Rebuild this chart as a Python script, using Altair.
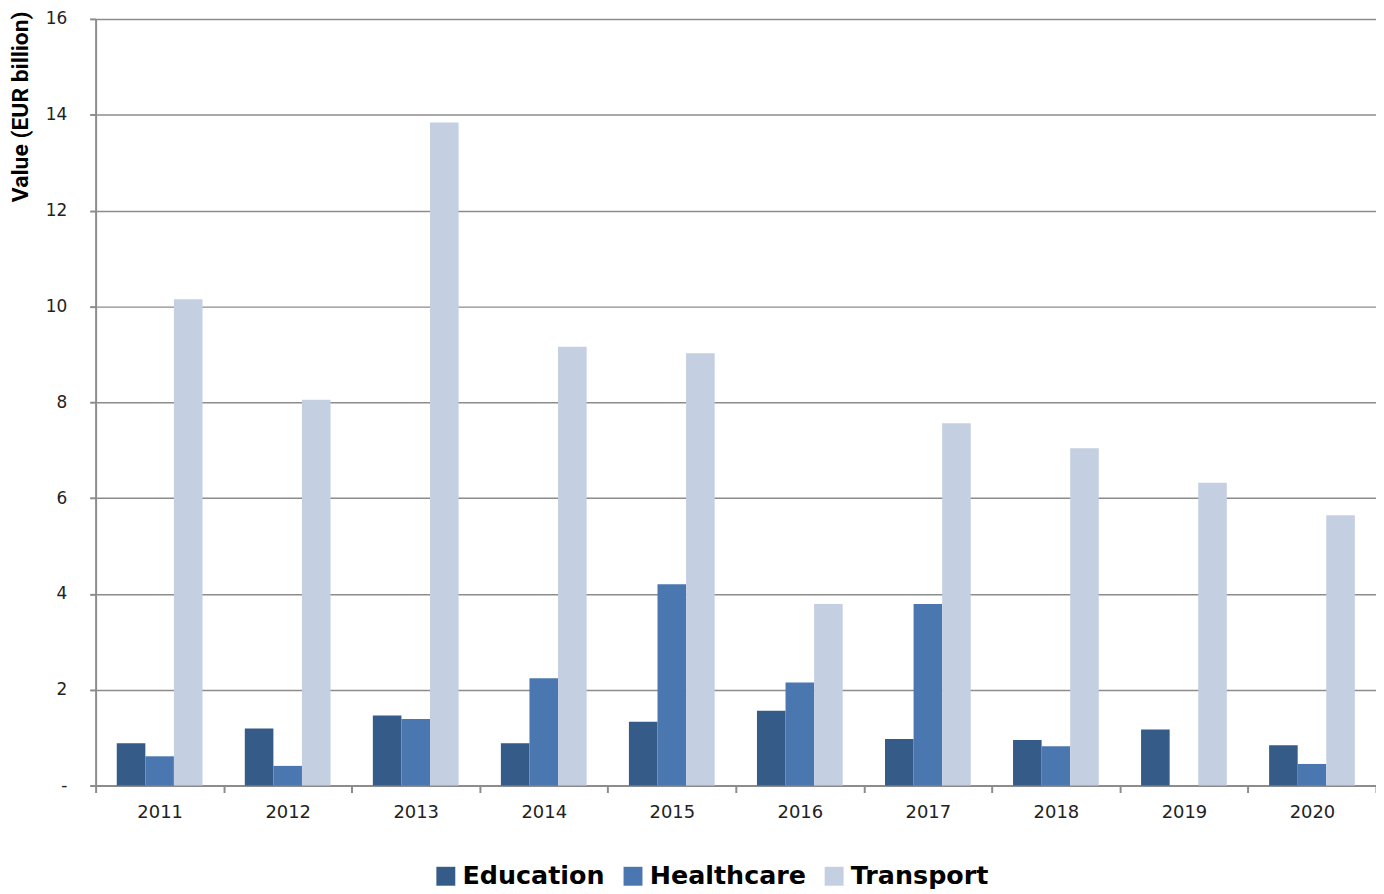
import altair as alt
import pandas as pd

years = ["2011", "2012", "2013", "2014", "2015", "2016", "2017", "2018", "2019", "2020"]
education = [0.88, 1.19, 1.46, 0.88, 1.33, 1.56, 0.97, 0.95, 1.17, 0.84]
healthcare = [0.61, 0.41, 1.39, 2.24, 4.20, 2.15, 3.79, 0.82, 0.0, 0.45]
transport = [10.15, 8.05, 13.84, 9.16, 9.02, 3.79, 7.56, 7.04, 6.32, 5.64]
series = ["Education", "Healthcare", "Transport"]
colors = ["#355B89", "#4A77AF", "#C4CFE2"]

rows = []
for i, y in enumerate(years):
    for s, vals in zip(series, [education, healthcare, transport]):
        rows.append({"Year": y, "Sector": s, "Value": vals[i]})
df = pd.DataFrame(rows)

chart = alt.Chart(df).mark_bar().encode(
    x=alt.X("Year:N", sort=years,
            scale=alt.Scale(paddingInner=0, paddingOuter=0),
            axis=alt.Axis(title=None, labelAngle=0, tickBand="extent",
                          labelFont="DejaVu Sans", labelFontSize=18, labelColor="#222222",
                          labelPadding=11, tickSize=7, tickColor="#8C8C8C", tickWidth=2,
                          domainColor="#8C8C8C", domainWidth=2, grid=False)),
    xOffset=alt.XOffset("Sector:N", sort=series,
                        scale=alt.Scale(paddingInner=0, paddingOuter=0.74)),
    y=alt.Y("Value:Q", scale=alt.Scale(domain=[0, 16], nice=False),
            axis=alt.Axis(title="Value (EUR billion)", values=[0, 2, 4, 6, 8, 10, 12, 14, 16],
                          labelExpr="datum.value == 0 ? '-' : datum.label",
                          labelFont="DejaVu Sans", labelFontSize=17, labelColor="#222222",
                          labelPadding=23, tickSize=6, tickColor="#8C8C8C", tickWidth=2,
                          domainColor="#8C8C8C", domainWidth=2,
                          gridColor="#8C8C8C", gridWidth=1.5,
                          titleFont="Roboto",
                          titleFontSize=23, titleFontWeight="bold",
                          titleColor="#000000", titleAngle=-90, titleAlign="right",
                          titleBaseline="middle", titleX=-75, titleY=-8)),
    color=alt.Color("Sector:N", sort=series,
                    scale=alt.Scale(domain=series, range=colors),
                    legend=alt.Legend(title=None, orient="none", direction="horizontal",
                                      legendX=339, legendY=848,
                                      symbolType="square", symbolSize=361, symbolStrokeWidth=0,
                                      symbolOpacity=1,
                                      labelFont="DejaVu Sans", labelFontSize=25.5, labelFontWeight="bold",
                                      labelColor="#000000", labelOffset=4, columnPadding=15)),
).properties(
    width=1286, height=770,
    autosize=alt.AutoSizeParams(type="none"),
    padding={"left": 88, "top": 9, "right": 0, "bottom": 104},
).configure_view(stroke=None)

chart.save("out.html", embed_options={"renderer": "svg", "actions": False})
